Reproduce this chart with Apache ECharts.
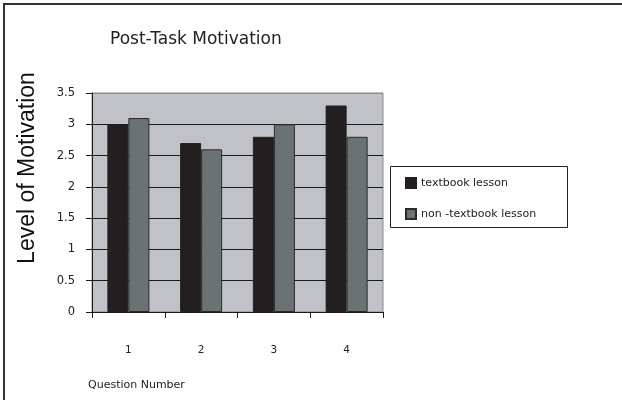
<!DOCTYPE html>
<html>
<head>
<meta charset="utf-8">
<script src="https://cdn.jsdelivr.net/npm/echarts@6/dist/echarts.min.js"></script>
<style>
html,body{margin:0;padding:0;background:#fff;}
#c{width:622px;height:400px;}
</style>
</head>
<body>
<div id="c"></div>
<script>
var categories = ['1', '2', '3', '4'];
var textbook = [3.0, 2.7, 2.8, 3.3];
var nonTextbook = [3.1, 2.6, 3.0, 2.8];
var seriesNames = ['textbook lesson', 'non -textbook lesson'];
var titleText = 'Post-Task Motivation';
var yName = 'Level of Motivation';
var xName = 'Question Number';

var chart = echarts.init(document.getElementById('c'));
var splitColors = ['#1a1a1a','#1a1a1a','#1a1a1a','#1a1a1a','#1a1a1a','#1a1a1a','#1a1a1a','#8a8a8a'];
chart.setOption({
  animation: false,
  backgroundColor: '#ffffff',
  title: {
    text: titleText,
    left: 105, top: 26,
    textStyle: { fontFamily: 'DejaVu Sans', fontSize: 17, fontWeight: 'normal', color: '#222' }
  },
  legend: {
    orient: 'vertical',
    left: 400, top: 172,
    itemWidth: 10, itemHeight: 10, itemGap: 19,
    icon: 'rect',
    data: seriesNames,
    textStyle: { fontFamily: 'DejaVu Sans', fontSize: 11, color: '#222' }
  },
  grid: {
    left: 92, right: 239, top: 93, bottom: 88,
    show: true, backgroundColor: '#c0c2c8', borderColor: '#8a8a8a', borderWidth: 1
  },
  xAxis: {
    type: 'category',
    data: categories,
    axisLine: { lineStyle: { color: '#1a1a1a', width: 1 } },
    axisTick: { show: true, length: 6, lineStyle: { color: '#1a1a1a' } },
    axisLabel: { margin: 33, fontFamily: 'DejaVu Sans', fontSize: 10.5, color: '#222' }
  },
  yAxis: {
    type: 'value',
    min: 0, max: 3.5, interval: 0.5,
    axisLine: { show: true, lineStyle: { color: '#1a1a1a', width: 1 } },
    axisTick: { show: true, length: 6, lineStyle: { color: '#1a1a1a' } },
    axisLabel: { margin: 17, fontFamily: 'DejaVu Sans', fontSize: 11.5, color: '#222' },
    splitLine: { show: true, lineStyle: { color: splitColors, width: 1 } }
  },
  series: [
    {
      name: seriesNames[0], type: 'bar', data: textbook,
      barWidth: 21, barGap: '0%',
      itemStyle: { color: '#231f20', borderColor: '#231f20', borderWidth: 1 }
    },
    {
      name: seriesNames[1], type: 'bar', data: nonTextbook,
      barWidth: 21, barGap: '0%',
      itemStyle: { color: '#6b7274', borderColor: '#2a2a2a', borderWidth: 1 }
    }
  ],
  graphic: [
    { type: 'line', shape: { x1: 3, y1: 4, x2: 622, y2: 4 }, style: { stroke: '#333', lineWidth: 2 } },
    { type: 'line', shape: { x1: 4, y1: 4, x2: 4, y2: 400 }, style: { stroke: '#333', lineWidth: 2 } },
    { type: 'rect', shape: { x: 390.5, y: 166.5, width: 177, height: 61 }, style: { fill: 'none', stroke: '#222', lineWidth: 1 }, z: -1 },
    {
      type: 'text',
      x: 28, y: 168,
      rotation: Math.PI / 2,
      style: { text: yName, font: '23px "Liberation Sans", Arial, sans-serif', fill: '#111', align: 'center', verticalAlign: 'middle' }
    },
    {
      type: 'text', left: 88, top: 380,
      style: { text: xName, font: '11px "DejaVu Sans", sans-serif', fill: '#222' }
    }
  ]
});
</script>
</body>
</html>
